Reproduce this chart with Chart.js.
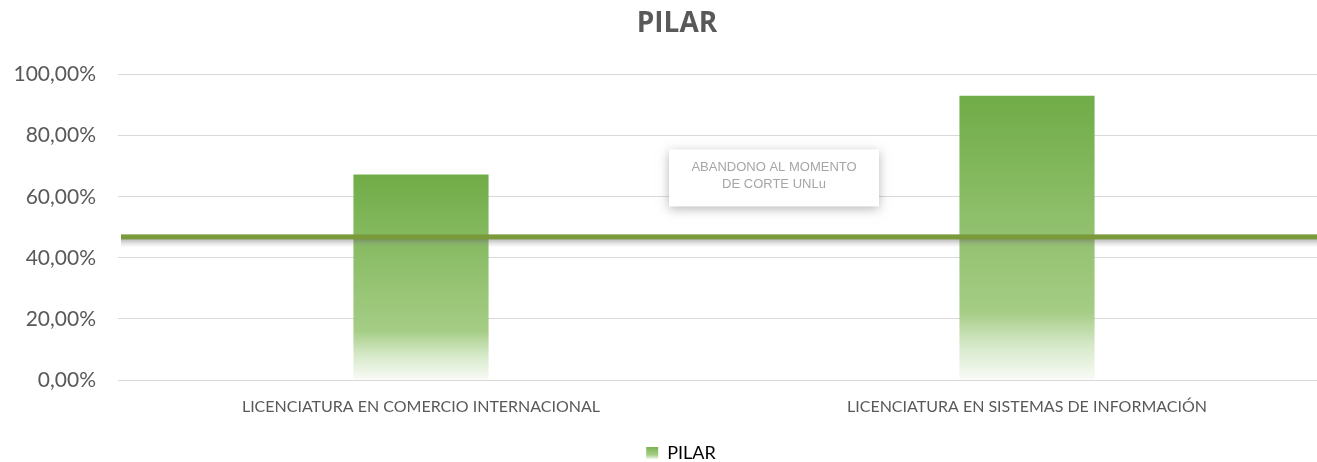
<!DOCTYPE html>
<html>
<head>
<meta charset="utf-8">
<script src="https://cdn.jsdelivr.net/npm/chart.js@4.4.0/dist/chart.umd.min.js"></script>
<style>
html,body{margin:0;padding:0;background:#fff;overflow:hidden;width:1317px;height:462px;}
#wrap{width:1354px;height:472px;position:relative;}
</style>
</head>
<body>
<div id="wrap"><canvas id="c" width="1354" height="472"></canvas></div>
<script>
const categories = ["LICENCIATURA EN COMERCIO INTERNACIONAL", "LICENCIATURA EN SISTEMAS DE INFORMACIÓN"];
const pilarValues = [0.673, 0.931];
const abandonoValue = 0.467;
const abandonoLabel = ["ABANDONO AL MOMENTO", "DE CORTE UNLu"];
const yTicks = [0, 0.2, 0.4, 0.6, 0.8, 1.0];
const seriesName = "PILAR";
const titleText = "PILAR";

function fmt(v){ return (v*100).toFixed(2).replace('.', ',') + '%'; }

function barGradient(ctx){
  const chart = ctx.chart;
  if (ctx.type !== 'data' || !chart.chartArea || !chart.scales.y) return '#8cc063';
  const y = chart.scales.y;
  const top = y.getPixelForValue(ctx.raw);
  const bot = y.getPixelForValue(0);
  const g = chart.ctx.createLinearGradient(0, top, 0, bot);
  g.addColorStop(0, '#70ac47');
  g.addColorStop(0.76, '#a5cd85');
  g.addColorStop(0.88, '#d6e9c9');
  g.addColorStop(1, '#f9fbf7');
  return g;
}

const shiftPlugin = {
  id: 'shiftBoxes',
  afterLayout(chart){
    if (chart.titleBlock) chart.titleBlock.left = 24;
    if (chart.legend) chart.legend.left = 32;
  }
};

const refLinePlugin = {
  id: 'refLine',
  afterDatasetsDraw(chart){
    const c = chart.ctx, y = chart.scales.y, area = chart.chartArea;
    const py = y.getPixelForValue(abandonoValue);
    c.save();
    const sg = c.createLinearGradient(0, py, 0, py + 10);
    sg.addColorStop(0, 'rgba(90,90,90,0.55)');
    sg.addColorStop(1, 'rgba(150,150,150,0)');
    c.fillStyle = sg;
    c.fillRect(area.left + 3, py, area.right - area.left, 10);
    c.fillStyle = '#7a9a3c';
    c.fillRect(area.left + 3, py - 3, area.right - area.left, 5);
    const bx = 669, bw = 210;
    const by = y.getPixelForValue(0.755), bh = 57;
    c.shadowColor = 'rgba(0,0,0,0.28)';
    c.shadowBlur = 10;
    c.shadowOffsetY = 3;
    c.fillStyle = '#ffffff';
    c.fillRect(bx, by, bw, bh);
    c.shadowColor = 'transparent';
    c.fillStyle = '#a6a6a6';
    c.font = '13px "Liberation Sans", Arial, sans-serif';
    c.textAlign = 'center';
    c.textBaseline = 'middle';
    c.fillText(abandonoLabel[0], bx + bw/2, by + 18);
    c.fillText(abandonoLabel[1], bx + bw/2, by + 35);
    c.restore();
  }
};

new Chart(document.getElementById('c'), {
  type: 'bar',
  data: {
    labels: categories,
    datasets: [{
      label: seriesName,
      data: pilarValues,
      backgroundColor: barGradient,
      borderWidth: 0,
      categoryPercentage: 1,
      barPercentage: 0.223
    }]
  },
  options: {
    responsive: false,
    animation: false,
    devicePixelRatio: 1,
    layout: { padding: { left: 0, right: 24, top: 0, bottom: 0 } },
    plugins: {
      title: {
        display: true, text: titleText, color: '#595959',
        font: { family: '"Open Sans", sans-serif', size: 28, weight: 'bold' },
        padding: { top: 7, bottom: 34 }
      },
      legend: {
        position: 'bottom',
        labels: {
          color: '#595959', boxWidth: 12, boxHeight: 12, padding: 0,
          font: { family: 'Lato, sans-serif', size: 18 },
          generateLabels(chart){
            const h = chart.height;
            const g = chart.ctx.createLinearGradient(0, h - 27, 0, h - 13);
            g.addColorStop(0, '#70ac47');
            g.addColorStop(0.7, '#a5cd85');
            g.addColorStop(1, '#f0f7eb');
            return [{ text: seriesName, fillStyle: g, strokeStyle: 'rgba(0,0,0,0)', lineWidth: 0, datasetIndex: 0 }];
          }
        }
      },
      tooltip: { enabled: false }
    },
    scales: {
      x: {
        afterFit(s){ s.height = 64; },
        grid: { display: false },
        border: { display: false },
        ticks: { color: '#595959', font: { family: 'Lato, sans-serif', size: 16 }, padding: 9, maxRotation: 0 }
      },
      y: {
        min: 0, max: 1,
        afterFit(s){ s.width = 118; },
        afterBuildTicks(s){ s.ticks = yTicks.map(v => ({ value: v })); },
        border: { display: false },
        grid: { color: '#d9d9d9', drawTicks: false, lineWidth: 1 },
        ticks: { color: '#595959', font: { family: 'Lato, sans-serif', size: 21 }, padding: 22, callback: v => fmt(v) }
      }
    }
  },
  plugins: [shiftPlugin, refLinePlugin]
});
</script>
</body>
</html>
